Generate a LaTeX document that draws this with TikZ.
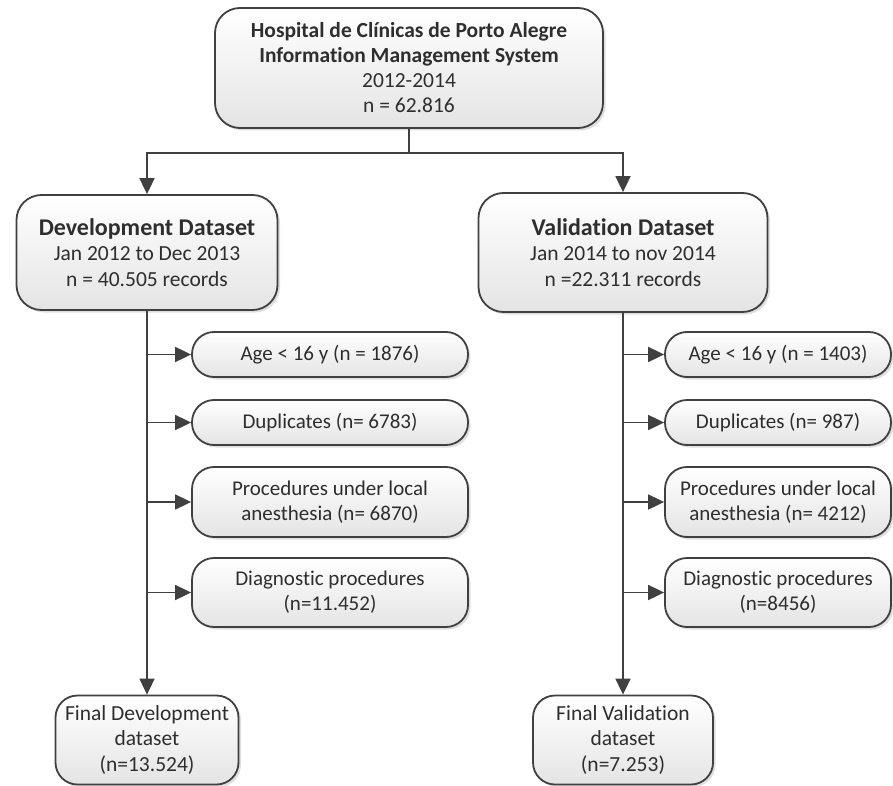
\documentclass[tikz,border=0pt]{standalone}
\usepackage{fontspec}
\setmainfont{Carlito}[Ligatures=NoCommon]
\usetikzlibrary{arrows.meta,shadows,positioning}
\definecolor{lineC}{HTML}{404040}
\definecolor{textC}{HTML}{2E2E2E}
\definecolor{fillB}{HTML}{E4E4E4}
\tikzset{
  box/.style={draw=lineC, line width=1.8pt, rounded corners=25pt, top color=white, bottom color=fillB,
    align=center, text=textC, inner sep=2pt,
    drop shadow={shadow xshift=2.5pt, shadow yshift=-2.5pt, opacity=0.25, fill=gray}},
  exbox/.style={box, rounded corners=22pt, font=\fontsize{21}{25}\selectfont},
  conn/.style={draw=lineC, line width=1.8pt},
  arr/.style={conn, -{Triangle[length=16pt,width=15pt]}},
}
\begin{document}
\begin{tikzpicture}[x=1pt,y=-1pt]
\useasboundingbox (0,0) rectangle (893,786);
\node[box, minimum width=388pt, minimum height=120pt, font=\fontsize{21.5}{25}\selectfont] (top) at (409,68)
  {\textbf{Hospital de Clínicas de Porto Alegre}\\\textbf{Information Management System}\\2012-2014\\n = 62.816};
\node[box, minimum width=261pt, minimum height=115pt, font=\fontsize{21.5}{25.5}\selectfont] (dev) at (147,252.5)
  {{\fontsize{24}{25.5}\selectfont\textbf{Development Dataset}}\\Jan 2012 to Dec 2013\\n = 40.505 records};
\node[box, minimum width=289pt, minimum height=119pt, font=\fontsize{21.5}{25.5}\selectfont] (val) at (623,252.5)
  {{\fontsize{24}{25.5}\selectfont\textbf{Validation Dataset}}\\Jan 2014 to nov 2014\\n =22.311 records};
% left exclusions
\node[exbox, minimum width=276pt, minimum height=45pt] (l1) at (330,354.5) {Age < 16 y (n = 1876)};
\node[exbox, minimum width=276pt, minimum height=45pt] (l2) at (330,422.5) {Duplicates (n= 6783)};
\node[exbox, minimum width=276pt, minimum height=70pt] (l3) at (330,502) {Procedures under local\\anesthesia (n= 6870)};
\node[exbox, minimum width=276pt, minimum height=69pt] (l4) at (330,592.5) {Diagnostic procedures\\(n=11.452)};
% right exclusions
\node[exbox, minimum width=226pt, minimum height=45pt] (r1) at (778,354.5) {Age < 16 y (n = 1403)};
\node[exbox, minimum width=226pt, minimum height=45pt] (r2) at (778,422.5) {Duplicates (n= 987)};
\node[exbox, minimum width=226pt, minimum height=70pt] (r3) at (778,502) {Procedures under local\\anesthesia (n= 4212)};
\node[exbox, minimum width=226pt, minimum height=69pt] (r4) at (778,592.5) {Diagnostic procedures\\(n=8456)};
% finals
\node[exbox, minimum width=183pt, minimum height=89pt, font=\fontsize{21.5}{25.5}\selectfont] (fdev) at (147,740) {Final Development\\dataset\\(n=13.524)};
\node[exbox, minimum width=180pt, minimum height=89pt, font=\fontsize{21.5}{25.5}\selectfont] (fval) at (623,740) {Final Validation\\dataset\\(n=7.253)};
% connectors
\coordinate (j) at (409,153);
\draw[conn] (top.south) -- (j);
\draw[arr] (j) -| (dev.north);
\draw[arr] (j) -| (val.north);
\draw[arr] (dev.south) -- (fdev.north);
\draw[arr] (val.south) -- (fval.north);
\foreach \n in {l1,l2,l3,l4}{\draw[arr] (dev.south |- \n.west) -- (\n.west);}
\foreach \n in {r1,r2,r3,r4}{\draw[arr] (val.south |- \n.west) -- (\n.west);}
\end{tikzpicture}
\end{document}
